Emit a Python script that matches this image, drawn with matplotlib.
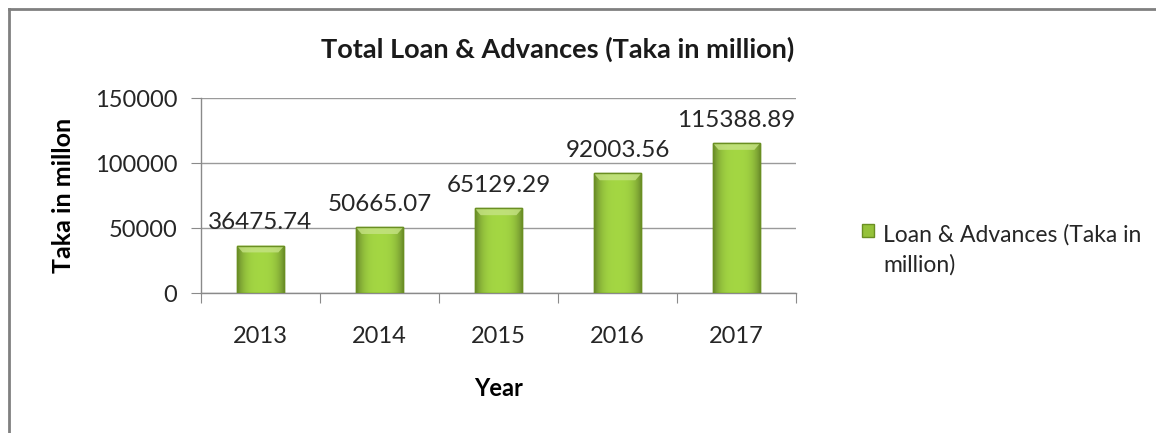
import numpy as np
import matplotlib.pyplot as plt
from matplotlib.patches import Polygon, Rectangle
from matplotlib.lines import Line2D

years = ['2013', '2014', '2015', '2016', '2017']
loans = [36475.74, 50665.07, 65129.29, 92003.56, 115388.89]
value_labels = ['36475.74', '50665.07', '65129.29', '92003.56', '115388.89']
series_name = 'Loan & Advances (Taka in\nmillion)'

plt.rcParams['font.family'] = ['Lato', 'DejaVu Sans']

fig = plt.figure(figsize=(11.56, 4.33), dpi=100)
ax = fig.add_axes([0.1739, 0.3233, 0.5147, 0.4503])

x = np.arange(len(years))
width = 0.40
bars = ax.bar(x, loans, width=width, color='#95c23a', edgecolor='#6a8f22',
              linewidth=1.0, zorder=3, label=series_name)

# shaded face + bevelled top on each bar
prof = np.linspace(-1, 1, 64)
shade = 1.05 - 0.38 * np.abs(prof) ** 3
base = np.array([0.61, 0.80, 0.25])
img = np.clip(shade[None, :, None] * base[None, None, :], 0, 1)
bevel = 0.035 * 150000
for b, v in zip(bars, loans):
    x0 = b.get_x()
    im = ax.imshow(img, extent=(x0, x0 + width, 0, v), aspect='auto',
                   interpolation='bilinear', zorder=3.5)
    im.set_clip_path(b)
    inset = 0.05
    top = Polygon([(x0, v), (x0 + width, v), (x0 + width - inset, v - bevel),
                   (x0 + inset, v - bevel)], closed=True,
                  facecolor='#c6e385', edgecolor='none', alpha=0.8, zorder=4)
    ax.add_patch(top)
    ax.add_patch(Rectangle((x0, 0), width, v, fill=False, edgecolor='#6a8f22',
                           linewidth=1.0, zorder=4.5))

for xi, v, lab in zip(x, loans, value_labels):
    ax.annotate(lab, (xi, v), xytext=(0, 9), textcoords='offset points',
                ha='center', va='bottom', fontsize=17.5, color='#262626', zorder=5)

ax.set_xlim(-0.5, len(years) - 0.5)
ax.set_ylim(0, 150000)
ax.set_yticks([0, 50000, 100000, 150000])
ax.set_yticklabels(['0', '50000', '100000', '150000'])
ax.yaxis.grid(True, color='#9a9a9a', linewidth=1.0, zorder=0)
ax.set_axisbelow(True)

# category boundaries carry the tick marks, labels sit in the middle
ax.set_xticks(np.arange(len(years) + 1) - 0.5)
ax.set_xticklabels([])
ax.set_xticks(x, minor=True)
ax.set_xticklabels(years, minor=True)
ax.tick_params(axis='x', which='major', length=7, color='#8a8a8a', direction='out')
ax.tick_params(axis='x', which='minor', length=0, pad=24, labelsize=17,
               labelcolor='#262626')
ax.tick_params(axis='y', length=7, color='#8a8a8a', pad=10, labelsize=17,
               labelcolor='#262626')

for side in ['top', 'right']:
    ax.spines[side].set_visible(False)
for side in ['left', 'bottom']:
    ax.spines[side].set_color('#8a8a8a')
    ax.spines[side].set_linewidth(1.0)

ax.set_xlabel('Year', fontsize=17, fontweight='bold', labelpad=21)
ax.set_ylabel('Taka in millon', fontsize=18, fontweight='bold', labelpad=14)

fig.text(0.482, 0.885, 'Total Loan & Advances (Taka in million)', ha='center',
         va='center', fontsize=19.5, fontweight='bold', color='#1a1a1a')

leg = ax.legend(loc='upper left', bbox_to_anchor=(0.736, 0.509),
                bbox_transform=fig.transFigure, frameon=False, fontsize=16.5,
                handlelength=0.5, handleheight=0.5, handletextpad=0.4,
                borderpad=0, labelcolor='#262626')
for t in leg.get_texts():
    t.set_linespacing(1.5)
# keep the swatch level with the first line of the wrapped label
for col in leg._legend_handle_box.get_children():
    for row in col.get_children():
        row.align = 'top'

# chart frame (top and left edges)
fig.add_artist(Line2D([0.008, 1.0], [0.979, 0.979], color='#808080',
                      linewidth=2.0, transform=fig.transFigure))
fig.add_artist(Line2D([0.008, 0.008], [0.0, 0.979], color='#808080',
                      linewidth=2.0, transform=fig.transFigure))

fig.savefig('out.png', dpi=100)
